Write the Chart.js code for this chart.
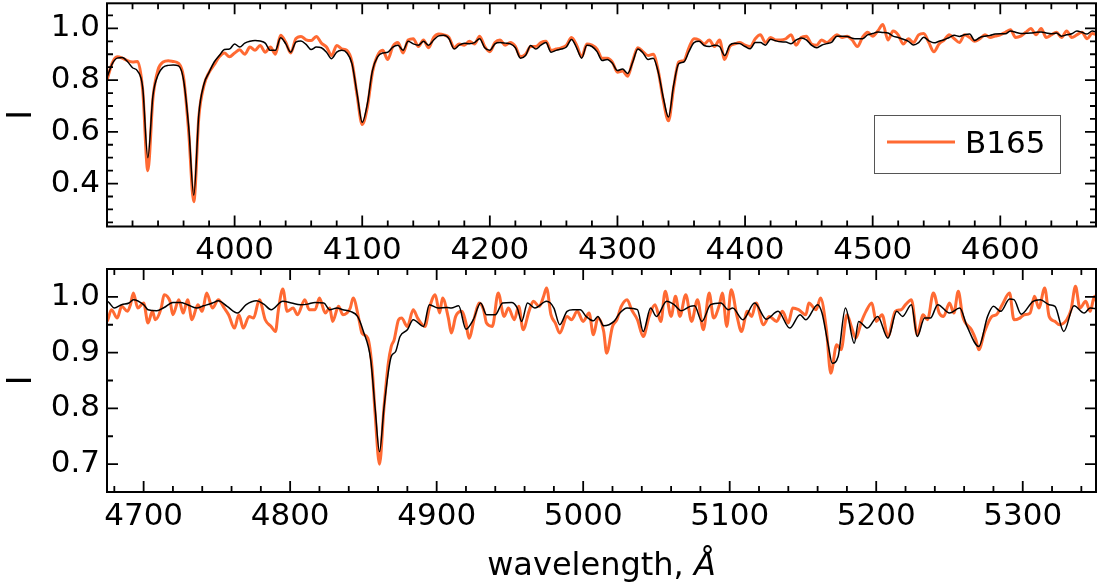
<!DOCTYPE html>
<html>
<head>
<meta charset="utf-8">
<script src="https://cdn.jsdelivr.net/npm/chart.js@4.4.1/dist/chart.umd.min.js"></script>
<style>
  body { margin: 0; background: #fff; }
  #wrap { position: relative; width: 1100px; height: 587px; }
  canvas { position: absolute; left: 0; }
</style>
</head>
<body>
<div id="wrap">
  <canvas id="topChart" width="1100" height="262" style="top:0"></canvas>
  <canvas id="botChart" width="1100" height="325" style="top:262px"></canvas>
</div>
<script>
// ---- upper panel: 3900-4675 A, model (black) and observed B165 (orange) on one grid
const topWave = [
  3900,3904,3908,3912,3916,3920,3924,3928,3932,3936,
  3940,3944,3948,3952,3956,3960,3964,3968,3972,3976,
  3980,3984,3988,3992,3996,4000,4004,4008,4012,4016,
  4020,4024,4028,4032,4036,4040,4044,4048,4052,4056,
  4060,4064,4068,4072,4076,4080,4084,4088,4092,4096,
  4100,4104,4108,4112,4116,4120,4124,4128,4132,4136,
  4140,4144,4148,4152,4156,4160,4164,4168,4172,4176,
  4180,4184,4188,4192,4196,4200,4204,4208,4212,4216,
  4220,4224,4228,4232,4236,4240,4244,4248,4252,4256,
  4260,4264,4268,4272,4276,4280,4284,4288,4292,4296,
  4300,4304,4308,4312,4316,4320,4324,4328,4332,4336,
  4340,4344,4348,4352,4356,4360,4364,4368,4372,4376,
  4380,4384,4388,4392,4396,4400,4404,4408,4412,4416,
  4420,4424,4428,4432,4436,4440,4444,4448,4452,4456,
  4460,4464,4468,4472,4476,4480,4484,4488,4492,4496,
  4500,4504,4508,4512,4516,4520,4524,4528,4532,4536,
  4540,4544,4548,4552,4556,4560,4564,4568,4572,4576,
  4580,4584,4588,4592,4596,4600,4604,4608,4612,4616,
  4620,4624,4628,4632,4636,4640,4644,4648,4652,4656,
  4660,4664,4668,4672,4676
];
const topModel = [
  0.81,0.862,0.885,0.887,0.872,0.848,0.835,0.77,0.50,0.74,
  0.82,0.85,0.857,0.858,0.855,0.80,0.62,0.355,0.67,0.785,
  0.83,0.87,0.895,0.918,0.92,0.94,0.928,0.943,0.95,0.953,
  0.951,0.943,0.915,0.915,0.964,0.941,0.908,0.947,0.951,0.938,
  0.918,0.928,0.925,0.908,0.883,0.908,0.915,0.905,0.863,0.747,
  0.637,0.708,0.837,0.89,0.905,0.908,0.928,0.935,0.915,0.95,
  0.94,0.935,0.95,0.935,0.955,0.971,0.973,0.96,0.92,0.935,
  0.943,0.941,0.945,0.96,0.925,0.915,0.94,0.945,0.943,0.94,
  0.925,0.885,0.895,0.934,0.92,0.935,0.945,0.908,0.915,0.92,
  0.928,0.957,0.925,0.885,0.935,0.93,0.91,0.876,0.88,0.865,
  0.837,0.843,0.826,0.87,0.92,0.905,0.88,0.885,0.83,0.73,
  0.657,0.78,0.863,0.87,0.91,0.945,0.95,0.934,0.93,0.935,
  0.93,0.895,0.935,0.943,0.941,0.93,0.921,0.945,0.945,0.935,
  0.958,0.952,0.948,0.947,0.941,0.955,0.963,0.956,0.935,0.925,
  0.935,0.941,0.947,0.97,0.97,0.969,0.962,0.96,0.96,0.975,
  0.98,0.986,0.984,0.982,0.97,0.965,0.958,0.95,0.936,0.945,
  0.966,0.952,0.944,0.95,0.956,0.965,0.973,0.969,0.975,0.978,
  0.953,0.965,0.97,0.973,0.978,0.979,0.979,0.99,0.985,0.98,
  0.981,0.982,0.985,0.986,0.982,0.979,0.982,0.97,0.975,0.979,
  0.99,0.985,0.978,0.99,0.985
];
const topObs = [
  0.80,0.865,0.89,0.885,0.875,0.87,0.872,0.76,0.45,0.73,
  0.84,0.87,0.875,0.872,0.865,0.81,0.60,0.33,0.66,0.78,
  0.83,0.86,0.89,0.905,0.89,0.905,0.917,0.90,0.928,0.915,
  0.934,0.908,0.928,0.90,0.973,0.947,0.905,0.96,0.969,0.956,
  0.953,0.969,0.943,0.928,0.895,0.934,0.921,0.915,0.87,0.74,
  0.628,0.695,0.83,0.895,0.915,0.88,0.93,0.945,0.905,0.955,
  0.96,0.93,0.955,0.925,0.965,0.978,0.975,0.965,0.925,0.94,
  0.935,0.95,0.94,0.97,0.93,0.91,0.945,0.955,0.935,0.945,
  0.93,0.89,0.90,0.93,0.93,0.945,0.95,0.915,0.92,0.925,
  0.935,0.965,0.935,0.89,0.94,0.935,0.92,0.885,0.885,0.87,
  0.83,0.835,0.815,0.875,0.925,0.91,0.895,0.90,0.835,0.72,
  0.643,0.77,0.87,0.875,0.925,0.96,0.955,0.94,0.955,0.93,
  0.955,0.88,0.93,0.94,0.945,0.935,0.93,0.96,0.975,0.945,
  0.965,0.955,0.955,0.96,0.975,0.935,0.965,0.97,0.94,0.935,
  0.955,0.945,0.96,0.975,0.965,0.97,0.955,0.93,0.965,0.985,
  0.97,0.99,1.015,0.955,0.99,0.975,0.94,0.96,0.945,0.975,
  0.98,0.945,0.91,0.94,0.955,0.975,0.96,0.945,0.975,0.965,
  0.95,0.96,0.975,0.965,0.97,0.975,0.985,0.995,0.965,0.97,
  0.985,1.0,0.975,1.0,0.965,0.975,0.985,0.965,0.99,0.965,
  0.975,0.985,0.96,0.98,0.975
];

const botModelWave = [
  4673,4675,4680,4685,4690,4693,4700,4703,4709,4714,4720,4725,4730,4736,4741,4747,4751,4757,4764,4770,
  4777,4782,4787,4795,4801,4807,4812,4817,4823,4827,4832,4836,4841,4846,4850,4855,4858,4861,4864,4867,
  4869,4872,4875,4880,4884,4891,4895,4901,4907,4910,4915,4920,4925,4930,4934,4940,4945,4951,4955,4958,
  4962,4967,4975,4980,4984,4989,4993,4998,5002,5007,5010,5014,5021,5025,5030,5037,5041,5046,5050,5057,
  5062,5067,5073,5076,5081,5087,5094,5099,5102,5109,5117,5125,5133,5141,5148,5152,5160,5163,5167,5170,
  5174,5179,5185,5188,5194,5201,5208,5214,5218,5224,5228,5233,5237,5242,5250,5257,5262,5270,5276,5280,
  5285,5291,5294,5299,5307,5312,5318,5322,5328,5335,5342,5346,5352
];
const botModelFlux = [
  0.99,0.992,0.980,0.986,0.989,0.995,0.986,0.977,0.975,0.981,0.990,0.990,0.986,0.980,0.984,0.989,0.993,0.983,0.971,0.986,
  0.993,0.987,0.977,0.992,0.989,0.986,0.987,0.990,0.989,0.977,0.980,0.977,0.974,0.965,0.938,0.887,0.80,0.722,0.80,0.865,
  0.893,0.902,0.929,0.941,0.959,0.947,0.986,0.980,0.981,0.980,0.984,0.942,0.959,0.989,0.968,0.968,0.989,0.990,0.980,0.956,
  0.989,0.980,0.992,0.980,0.950,0.974,0.977,0.977,0.965,0.957,0.965,0.948,0.956,0.971,0.980,0.977,0.938,0.980,0.965,0.992,
  0.986,0.975,0.983,0.984,0.956,0.986,0.989,0.977,0.980,0.959,0.989,0.960,0.974,0.944,0.968,0.959,0.986,0.971,0.917,0.881,
  0.893,0.980,0.917,0.956,0.944,0.965,0.926,0.974,0.965,0.986,0.929,0.962,0.962,0.986,0.971,0.980,0.947,0.911,0.965,0.983,
  0.974,0.996,0.995,0.969,0.992,0.995,0.986,0.983,0.938,0.984,0.971,0.980,0.978
];
const botObsWave = [
  4673,4675,4678,4682,4685,4689,4691,4693,4696,4700,4703,4706,4708,4712,4714,4718,4720,4724,4727,4730,
  4733,4737,4740,4743,4747,4751,4755,4758,4762,4765,4768,4772,4775,4779,4783,4787,4790,4792,4795,4798,
  4802,4805,4810,4813,4817,4820,4824,4827,4829,4833,4836,4841,4843,4847,4849,4853,4856,4858,4861,4864,
  4867,4869,4871,4874,4876,4880,4884,4887,4892,4895,4899,4902,4904,4908,4910,4913,4917,4920,4922,4926,
  4929,4932,4934,4938,4942,4946,4949,4953,4956,4959,4963,4966,4970,4973,4975,4978,4981,4984,4989,4992,
  4996,5000,5004,5007,5010,5014,5016,5020,5023,5026,5030,5033,5037,5041,5045,5049,5053,5056,5060,5063,
  5066,5070,5074,5078,5082,5086,5089,5093,5095,5098,5101,5105,5108,5112,5115,5118,5123,5127,5132,5136,
  5140,5143,5147,5152,5154,5159,5162,5166,5169,5173,5176,5180,5183,5186,5190,5193,5197,5200,5204,5208,
  5213,5217,5220,5224,5228,5232,5235,5239,5243,5246,5250,5253,5256,5259,5265,5268,5270,5274,5279,5282,
  5286,5291,5294,5298,5301,5305,5308,5311,5315,5318,5322,5325,5330,5333,5336,5339,5343,5346,5349,5352
];
const botObsFlux = [
  0.955,0.956,0.977,0.962,0.983,0.974,0.986,1.007,0.980,0.989,0.953,0.974,0.959,0.980,1.004,0.992,0.968,0.995,0.971,0.995,
  0.959,0.986,0.974,1.007,0.980,0.995,0.980,0.968,0.944,0.968,0.944,0.965,0.962,0.995,0.959,0.947,0.938,0.977,1.014,0.974,
  0.980,0.968,0.995,0.977,0.977,0.998,0.971,0.980,0.956,0.983,0.968,0.980,0.998,0.959,0.935,0.926,0.87,0.79,0.70,0.80,
  0.881,0.911,0.923,0.959,0.962,0.947,0.977,0.962,0.947,0.980,1.004,0.971,0.998,0.962,0.935,0.965,0.974,0.953,0.926,0.965,
  0.989,0.977,0.953,0.947,1.007,0.965,0.980,0.959,0.983,0.941,0.974,0.992,0.983,1.001,1.016,0.968,0.953,0.935,0.965,0.959,
  0.974,0.956,0.971,0.932,0.962,0.938,0.899,0.947,0.959,0.983,0.995,0.977,0.959,0.929,0.965,0.986,0.956,1.010,0.965,1.001,
  0.965,1.004,0.956,0.995,0.941,1.007,0.962,0.986,1.007,0.947,1.013,0.965,0.938,0.974,0.965,0.989,0.950,0.965,0.956,0.974,
  0.953,0.980,0.977,0.968,0.989,0.977,0.998,0.941,0.863,0.914,0.905,0.968,0.947,0.926,0.956,0.974,0.989,0.956,0.968,0.929,
  0.974,0.977,0.986,0.995,0.932,0.968,0.959,1.007,0.971,0.965,0.989,0.971,1.010,0.965,0.941,0.923,0.905,0.938,0.965,0.968,
  0.986,1.007,0.959,0.962,0.968,0.971,1.001,0.980,1.016,0.965,0.956,0.950,0.959,0.977,1.019,0.980,0.992,0.974,1.001,0.965
];

// ---- axes
const topXTicks = [4000, 4100, 4200, 4300, 4400, 4500, 4600];
const topYTicks = [0.4, 0.6, 0.8, 1.0];
const botXTicks = [4700, 4800, 4900, 5000, 5100, 5200, 5300];
const botYTicks = [0.7, 0.8, 0.9, 1.0];
const seriesLabel = 'B165';
const xTitle = ['wavelength, ', 'Å'];

const ORANGE = '#ff6a33';
const FONT = 'DejaVu Sans';

Chart.defaults.font.family = FONT;
Chart.defaults.font.size = 31;
Chart.defaults.color = '#000';

const pts = (xs, ys) => xs.map((x, i) => ({ x: x, y: ys[i] }));

// inward ticks on all four sides plus the black frame, like matplotlib direction='in'
const frameTicks = {
  id: 'frameTicks',
  afterDatasetsDraw(chart, args, opts) {
    const { ctx, chartArea: a, scales: { x, y } } = chart;
    const near = (arr, v) => arr.some(m => Math.abs(m - v) < 1e-6);
    ctx.save();
    ctx.strokeStyle = '#000';
    ctx.lineWidth = 1.8;
    ctx.beginPath();
    for (let k = Math.ceil(x.min / opts.xMinor); k * opts.xMinor <= x.max; k++) {
      const v = k * opts.xMinor;
      const px = x.getPixelForValue(v);
      const len = near(opts.xMajor, v) ? 11 : 6;
      ctx.moveTo(px, a.bottom); ctx.lineTo(px, a.bottom - len);
      ctx.moveTo(px, a.top); ctx.lineTo(px, a.top + len);
    }
    for (let k = Math.ceil(y.min / opts.yMinor - 1e-9); k * opts.yMinor <= y.max + 1e-9; k++) {
      const v = k * opts.yMinor;
      const py = y.getPixelForValue(v);
      const len = near(opts.yMajor, v) ? 11 : 6;
      ctx.moveTo(a.left, py); ctx.lineTo(a.left + len, py);
      ctx.moveTo(a.right, py); ctx.lineTo(a.right - len, py);
    }
    ctx.stroke();
    ctx.lineWidth = 2;
    ctx.strokeRect(a.left, a.top, a.right - a.left, a.bottom - a.top);
    ctx.restore();
  }
};

// boxed legend inside the upper panel, only for labelled datasets
const boxLegend = {
  id: 'boxLegend',
  afterDraw(chart) {
    const { ctx } = chart;
    const ds = chart.data.datasets.find(d => d.label);
    ctx.save();
    ctx.fillStyle = '#fff';
    ctx.fillRect(874, 115, 187, 58);
    ctx.strokeStyle = '#555';
    ctx.lineWidth = 1;
    ctx.strokeRect(874.5, 115.5, 186, 58);
    ctx.strokeStyle = ds.borderColor;
    ctx.lineWidth = ds.borderWidth;
    ctx.beginPath();
    ctx.moveTo(887, 142); ctx.lineTo(955, 142);
    ctx.stroke();
    ctx.fillStyle = '#000';
    ctx.font = '31px "' + FONT + '"';
    ctx.textBaseline = 'alphabetic';
    ctx.fillText(ds.label, 965, 153);
    ctx.restore();
  }
};

// x label with the italic angstrom sign
const xLabel = {
  id: 'xLabel',
  afterDraw(chart) {
    const { ctx } = chart;
    const a = chart.chartArea;
    ctx.save();
    ctx.fillStyle = '#000';
    ctx.textBaseline = 'alphabetic';
    const f1 = '32px "' + FONT + '"', f2 = 'oblique 32px "' + FONT + '"';
    ctx.font = f1; const w1 = ctx.measureText(xTitle[0]).width;
    ctx.font = f2; const w2 = ctx.measureText(xTitle[1]).width;
    let x0 = (a.left + a.right) / 2 - (w1 + w2) / 2;
    ctx.font = f1; ctx.fillText(xTitle[0], x0, 313);
    ctx.font = f2; ctx.fillText(xTitle[1], x0 + w1, 313);
    ctx.restore();
  }
};

function panel(canvasId, modelPts, obsPts, xr, yr, xTicks, yTicks, pad, xHeight, withLabel, extra) {
  return new Chart(document.getElementById(canvasId), {
    type: 'line',
    data: {
      datasets: [
        { data: modelPts, borderColor: '#000', borderWidth: 1.5, pointRadius: 0,
          cubicInterpolationMode: 'monotone', order: 0 },
        { label: withLabel ? seriesLabel : undefined, data: obsPts, borderColor: ORANGE,
          borderWidth: 3, pointRadius: 0, cubicInterpolationMode: 'monotone', order: 1 }
      ]
    },
    options: {
      responsive: false,
      animation: false,
      devicePixelRatio: 1,
      layout: { padding: pad },
      plugins: {
        legend: { display: false },
        tooltip: { enabled: false },
        frameTicks: { xMajor: xTicks, yMajor: yTicks, xMinor: 20, yMinor: 0.05 }
      },
      scales: {
        x: {
          type: 'linear', min: xr[0], max: xr[1],
          grid: { display: false, drawTicks: false },
          border: { display: false },
          afterBuildTicks: s => { s.ticks = xTicks.map(v => ({ value: v })); },
          afterFit: s => { s.height = xHeight; s.paddingLeft = 0; s.paddingRight = 0; },
          ticks: { autoSkip: false, maxRotation: 0, padding: 6, callback: v => String(v) }
        },
        y: {
          min: yr[0], max: yr[1],
          grid: { display: false, drawTicks: false },
          border: { display: false },
          afterBuildTicks: s => { s.ticks = yTicks.map(v => ({ value: v })); },
          afterFit: s => { s.width = 107; s.paddingTop = 0; s.paddingBottom = 0; },
          ticks: { padding: 7, callback: v => v.toFixed(1) },
          title: { display: true, text: 'I', font: { size: 33 }, padding: { top: 3, bottom: 0 } }
        }
      }
    },
    plugins: [frameTicks].concat(extra)
  });
}

panel('topChart', pts(topWave, topModel), pts(topWave, topObs),
  [3900, 4675], [0.234, 1.097], topXTicks, topYTicks,
  { top: 3.3, right: 4, left: 0, bottom: 0 }, 35.5, true, [boxLegend]);

panel('botChart', pts(botModelWave, botModelFlux), pts(botObsWave, botObsFlux),
  [4675, 5350], [0.65, 1.05], botXTicks, botYTicks,
  { top: 7, right: 4, left: 0, bottom: 0 }, 95, false, [xLabel]);
</script>
</body>
</html>
